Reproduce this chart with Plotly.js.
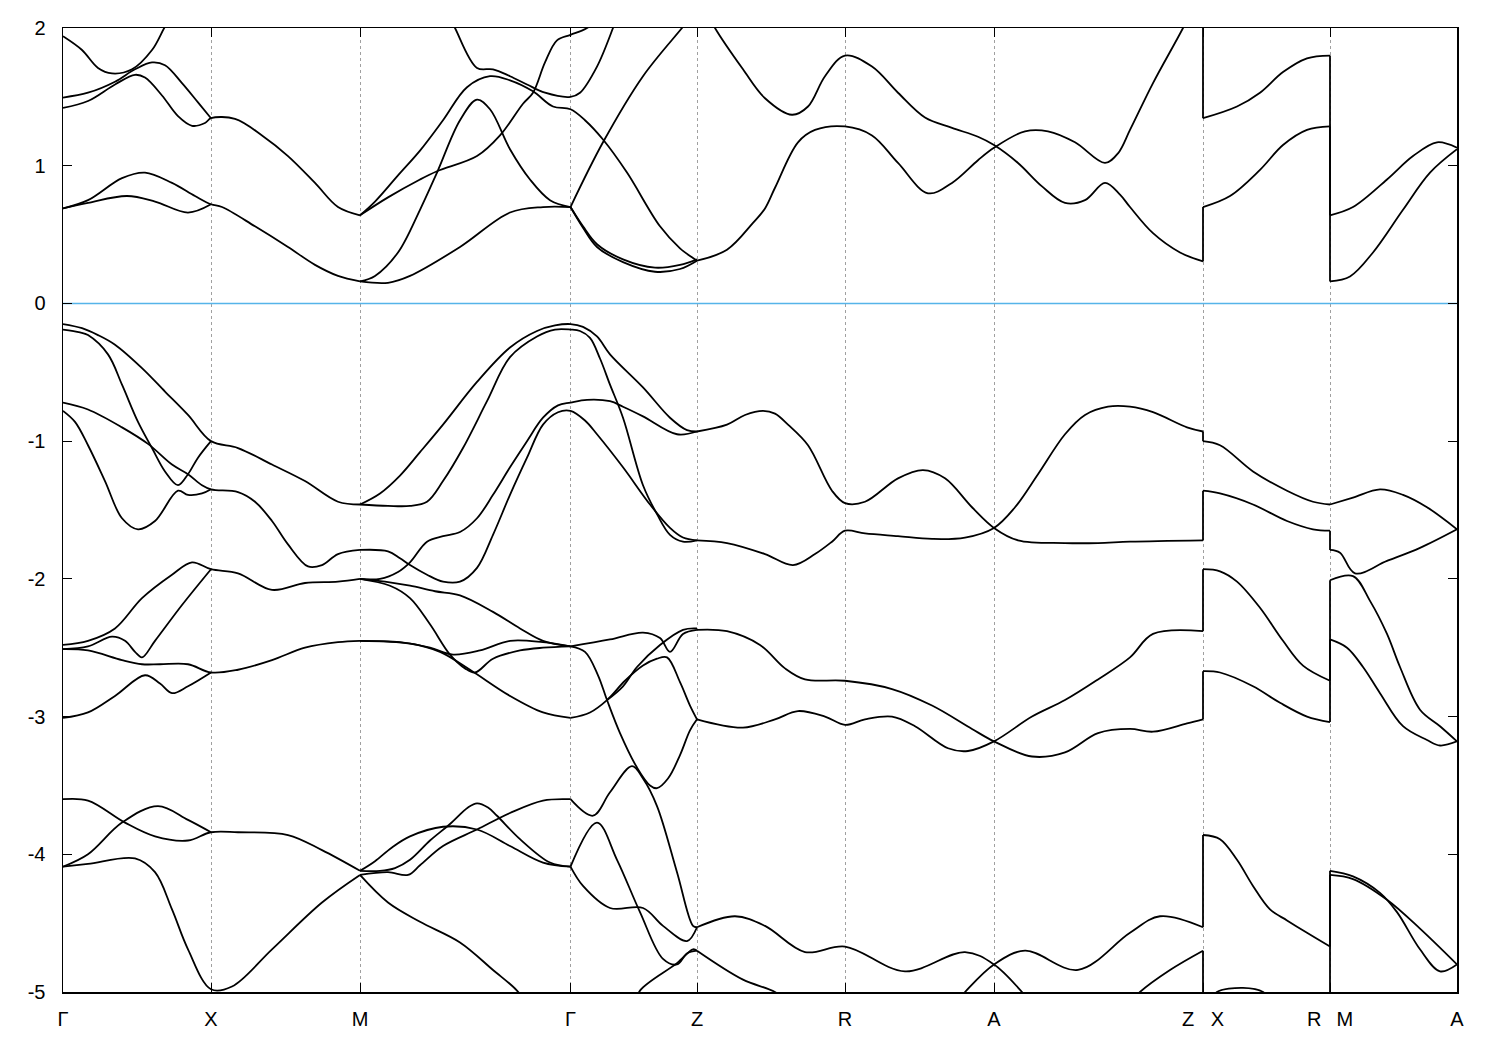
<!DOCTYPE html>
<html><head><meta charset="utf-8">
<script src="https://cdn.plot.ly/plotly-3.0.1.min.js"></script>
<style>html,body{margin:0;padding:0;background:#fff}</style>
</head><body>
<div id="chart" style="width:1500px;height:1050px"></div>
<script>
// high-symmetry points along the k-path
const kTicks = [0, 1.48, 2.97, 5.075, 6.34, 7.82, 9.31, 11.40, 12.67, 13.94];
const kLabels = ["Γ", "X", "M", "Γ", "Z", "R", "A", "Z\u00a0\u00a0\u00a0X", "R\u00a0\u00a0\u2009M", "A"];
const eTicks = [-5, -4, -3, -2, -1, 0, 1, 2];
const eLabels = ["-5", "-4", "-3", "-2", "-1", "0", "1", "2"];
const fermiLevel = 0;

// ---- conduction bands  [k, E(eV)] ----
const c01 = [[0,0.69],[0.25,0.75],[0.59,0.91],[0.82,0.95],[1.09,0.875],[1.32,0.78],[1.48,0.72],[1.59,0.70],[1.92,0.56],[2.25,0.41],[2.52,0.28],[2.75,0.20],[2.97,0.16]];
const c02 = [[0,0.69],[0.25,0.73],[0.64,0.78],[0.92,0.74],[1.25,0.66],[1.48,0.72]];
const c04 = [[0,1.94],[0.19,1.84],[0.35,1.71],[0.49,1.67],[0.69,1.70],[0.89,1.84],[1.02,2.01],[1.1,2.1]];
const c05 = [[0,1.495],[0.25,1.53],[0.52,1.61],[0.72,1.70],[0.89,1.75],[1.02,1.73],[1.19,1.60],[1.35,1.46],[1.48,1.345]];
const c06 = [[0,1.42],[0.25,1.47],[0.52,1.59],[0.72,1.66],[0.82,1.64],[0.99,1.51],[1.15,1.36],[1.29,1.29],[1.42,1.31],[1.48,1.345],[1.72,1.34],[1.99,1.22],[2.25,1.07],[2.52,0.875],[2.75,0.70],[2.97,0.64]];
const c07 = [[2.97,0.16],[3.25,0.15],[3.47,0.20],[3.97,0.41],[4.47,0.66],[4.80,0.70],[5.075,0.70]];
const c08 = [[2.97,0.16],[3.12,0.20],[3.35,0.37],[3.57,0.68],[3.74,0.95],[3.97,1.33],[4.14,1.48],[4.27,1.41],[4.47,1.12],[4.67,0.90],[4.87,0.75],[5.075,0.70]];
const c09 = [[2.97,0.64],[3.12,0.74],[3.35,0.93],[3.57,1.11],[3.80,1.33],[4.04,1.57],[4.27,1.65],[4.47,1.62],[4.70,1.54],[4.90,1.43],[5.075,1.41],[5.22,1.33],[5.40,1.19],[5.64,0.95],[5.97,0.56],[6.17,0.40],[6.30,0.33],[6.34,0.31]];
const c10 = [[2.97,0.64],[3.25,0.77],[3.57,0.90],[3.74,0.96],[4.14,1.07],[4.37,1.22],[4.60,1.45],[4.70,1.53],[4.82,1.75],[4.94,1.91],[5.075,1.95],[5.24,2.0],[5.4,2.1]];
const c11 = [[3.85,2.1],[3.92,2.0],[4.14,1.71],[4.30,1.70],[4.47,1.65],[4.64,1.59],[4.82,1.53],[5.075,1.50],[5.17,1.53],[5.34,1.72],[5.50,2.0],[5.55,2.1]];
const c12 = [[5.075,0.70],[5.20,0.55],[5.34,0.41],[5.60,0.30],[5.92,0.23],[6.17,0.25],[6.34,0.31]];
const c12b = [[5.075,0.70],[5.20,0.56],[5.34,0.43],[5.60,0.32],[5.92,0.26],[6.17,0.28],[6.34,0.32]];
const c13 = [[5.075,0.70],[5.40,1.17],[5.80,1.65],[6.19,2.0],[6.3,2.1]];
const c14 = [[6.34,0.31],[6.64,0.39],[6.90,0.585],[7.02,0.69],[7.12,0.84],[7.35,1.17],[7.52,1.26],[7.82,1.285],[8.09,1.22],[8.35,1.02],[8.65,0.80],[8.89,0.875],[9.15,1.04],[9.31,1.13],[9.62,1.25],[9.85,1.25],[10.12,1.17],[10.42,1.02],[10.55,1.09],[10.67,1.26],[10.90,1.60],[11.20,2.0],[11.3,2.15]];
const c15 = [[6.45,2.1],[6.52,2.0],[6.80,1.70],[7.02,1.49],[7.29,1.37],[7.45,1.43],[7.62,1.65],[7.82,1.80],[8.09,1.72],[8.35,1.53],[8.62,1.35],[8.89,1.275],[9.15,1.21],[9.31,1.15],[9.55,1.02],[9.79,0.85],[10.02,0.73],[10.22,0.75],[10.42,0.875],[10.57,0.79],[10.67,0.70],[10.90,0.51],[11.17,0.37],[11.40,0.305]];
const c16 = [[11.40,1.345],[11.74,1.43],[11.97,1.53],[12.20,1.68],[12.44,1.78],[12.67,1.80]];
const c17 = [[11.40,0.70],[11.67,0.78],[11.97,0.97],[12.20,1.15],[12.44,1.26],[12.67,1.285]];
const c18 = [[12.67,0.64],[12.90,0.70],[13.24,0.90],[13.50,1.07],[13.74,1.17],[13.94,1.13]];
const c19 = [[12.67,0.16],[12.87,0.196],[13.10,0.37],[13.40,0.68],[13.67,0.95],[13.94,1.12]];

// ---- valence bands ----
const vA = [[0,-0.19],[0.17,-0.21],[0.25,-0.23],[0.45,-0.37],[0.59,-0.59],[0.75,-0.86],[0.89,-1.05],[1.02,-1.22],[1.15,-1.32],[1.25,-1.24],[1.35,-1.12],[1.48,-1.00]];
const vB = [[0,-0.15],[0.19,-0.18],[0.35,-0.23],[0.52,-0.30],[0.79,-0.47],[1.02,-0.64],[1.25,-0.81],[1.48,-1.00],[1.75,-1.05],[2.09,-1.17],[2.42,-1.29],[2.75,-1.44],[2.97,-1.46]];
const vC = [[0,-0.72],[0.25,-0.77],[0.59,-0.90],[0.85,-1.02],[1.09,-1.17],[1.25,-1.24],[1.39,-1.32],[1.48,-1.35],[1.75,-1.37],[1.92,-1.44],[2.09,-1.58],[2.25,-1.75],[2.45,-1.91],[2.59,-1.90],[2.75,-1.82],[2.97,-1.79]];
const vD = [[0,-0.78],[0.12,-0.86],[0.25,-1.03],[0.42,-1.29],[0.59,-1.56],[0.75,-1.64],[0.92,-1.58],[1.15,-1.36],[1.25,-1.39],[1.39,-1.38],[1.48,-1.35]];
const vG = [[2.97,-1.46],[3.17,-1.38],[3.37,-1.25],[3.57,-1.08],[3.80,-0.88],[4.14,-0.57],[4.47,-0.32],[4.74,-0.20],[4.92,-0.16],[5.075,-0.15],[5.20,-0.17],[5.34,-0.24],[5.47,-0.37],[5.80,-0.61],[6.07,-0.83],[6.24,-0.92],[6.34,-0.93]];
const vH = [[2.97,-1.46],[3.25,-1.47],[3.47,-1.47],[3.64,-1.44],[3.80,-1.29],[4.00,-1.05],[4.24,-0.71],[4.47,-0.39],[4.74,-0.24],[4.92,-0.19],[5.075,-0.19],[5.17,-0.20],[5.27,-0.25],[5.37,-0.40],[5.47,-0.59],[5.60,-0.83],[5.80,-1.32],[5.94,-1.53],[6.07,-1.68],[6.20,-1.73],[6.34,-1.72]];
const m1 = [[2.97,-1.79],[3.25,-1.80],[3.37,-1.85],[3.47,-1.90],[3.64,-1.97],[3.80,-2.02],[3.97,-2.02],[4.14,-1.92],[4.30,-1.68],[4.47,-1.39],[4.64,-1.12],[4.80,-0.88],[4.95,-0.79],[5.075,-0.78],[5.22,-0.85],[5.34,-0.95],[5.60,-1.19],[5.87,-1.46],[6.07,-1.63],[6.20,-1.70],[6.34,-1.72]];
const m2 = [[2.97,-2.00],[3.17,-2.00],[3.35,-1.95],[3.47,-1.88],[3.64,-1.73],[3.80,-1.69],[3.97,-1.66],[4.14,-1.56],[4.30,-1.39],[4.47,-1.19],[4.64,-1.00],[4.80,-0.83],[4.95,-0.74],[5.075,-0.72],[5.24,-0.70],[5.47,-0.71],[5.60,-0.75],[5.80,-0.82],[6.14,-0.95],[6.34,-0.93]];
const vK = [[6.34,-0.93],[6.64,-0.88],[6.82,-0.81],[7.00,-0.78],[7.12,-0.80],[7.25,-0.88],[7.45,-1.03],[7.69,-1.36],[7.82,-1.45],[8.02,-1.44],[8.35,-1.27],[8.60,-1.21],[8.82,-1.27],[9.09,-1.48],[9.31,-1.63],[9.55,-1.72],[10.02,-1.74],[10.35,-1.74],[10.67,-1.73],[11.40,-1.72]];
const vL = [[6.34,-1.72],[6.64,-1.74],[7.02,-1.82],[7.30,-1.90],[7.52,-1.82],[7.69,-1.73],[7.82,-1.65],[8.02,-1.67],[8.35,-1.69],[8.69,-1.71],[9.02,-1.70],[9.31,-1.63],[9.52,-1.48],[9.75,-1.24],[10.02,-0.95],[10.22,-0.81],[10.45,-0.75],[10.67,-0.75],[10.90,-0.79],[11.24,-0.90],[11.40,-0.93]];
const g1 = [[0,-2.48],[0.25,-2.45],[0.52,-2.36],[0.79,-2.14],[1.09,-1.97],[1.29,-1.88],[1.48,-1.93],[1.75,-1.96],[2.09,-2.08],[2.42,-2.03],[2.75,-2.02],[2.97,-2.00]];
const g2 = [[0,-2.51],[0.25,-2.49],[0.49,-2.42],[0.62,-2.45],[0.72,-2.53],[0.79,-2.57],[0.92,-2.45],[1.19,-2.19],[1.48,-1.93]];
const g3 = [[0,-2.51],[0.25,-2.52],[0.59,-2.59],[0.79,-2.62],[0.97,-2.62],[1.25,-2.62],[1.48,-2.68],[1.75,-2.66],[2.09,-2.59],[2.42,-2.50],[2.75,-2.46],[2.97,-2.45]];
const g4 = [[0,-3.01],[0.25,-2.97],[0.52,-2.85],[0.82,-2.70],[0.97,-2.76],[1.09,-2.83],[1.25,-2.78],[1.48,-2.68]];
const m3 = [[2.97,-2.00],[3.22,-2.02],[3.47,-2.05],[3.72,-2.09],[3.97,-2.12],[4.30,-2.24],[4.57,-2.36],[4.80,-2.45],[5.075,-2.49]];
const m4 = [[2.97,-2.00],[3.27,-2.05],[3.47,-2.14],[3.67,-2.33],[3.87,-2.55],[4.02,-2.65],[4.12,-2.68],[4.30,-2.58],[4.57,-2.52],[4.80,-2.50],[5.075,-2.49]];
const m5 = [[2.97,-2.45],[3.47,-2.47],[3.77,-2.53],[4.07,-2.66],[4.47,-2.85],[4.80,-2.97],[5.075,-3.01]];
const m6 = [[2.97,-2.45],[3.37,-2.46],[3.67,-2.50],[3.90,-2.55],[4.17,-2.52],[4.47,-2.45],[4.80,-2.46],[5.075,-2.49]];
const va = [[5.075,-2.49],[5.22,-2.53],[5.35,-2.70],[5.44,-2.88],[5.57,-3.12],[5.74,-3.37],[5.87,-3.50],[5.94,-3.52],[6.05,-3.45],[6.17,-3.28],[6.27,-3.10],[6.34,-3.02]];
const vb = [[5.075,-3.01],[5.27,-2.97],[5.44,-2.88],[5.62,-2.74],[5.80,-2.63],[5.94,-2.58],[6.04,-2.57],[6.17,-2.75],[6.27,-2.92],[6.34,-3.02]];
const vd = [[5.075,-2.49],[5.47,-2.44],[5.80,-2.39],[5.97,-2.43],[6.07,-2.53],[6.20,-2.40],[6.34,-2.37]];
const ve = [[5.44,-2.88],[5.60,-2.78],[5.74,-2.64],[5.97,-2.48],[6.20,-2.37],[6.34,-2.36]];
const vM = [[6.34,-2.37],[6.64,-2.38],[6.97,-2.48],[7.22,-2.65],[7.42,-2.73],[7.82,-2.74],[8.29,-2.80],[8.69,-2.92],[9.09,-3.09],[9.31,-3.18],[9.69,-3.29],[10.02,-3.26],[10.35,-3.12],[10.67,-3.09],[10.90,-3.11],[11.24,-3.05],[11.40,-3.02]];
const vN = [[6.34,-3.02],[6.80,-3.08],[7.12,-3.02],[7.35,-2.96],[7.62,-3.00],[7.82,-3.06],[8.02,-3.02],[8.29,-3.00],[8.52,-3.07],[8.85,-3.23],[9.05,-3.25],[9.31,-3.18],[9.69,-3.00],[10.02,-2.88],[10.35,-2.73],[10.67,-2.57],[10.90,-2.40],[11.40,-2.38]];
const la = [[0,-3.60],[0.25,-3.61],[0.62,-3.77],[0.92,-3.87],[1.25,-3.90],[1.48,-3.84],[1.75,-3.84],[2.25,-3.86],[2.59,-3.97],[2.97,-4.12]];
const lb = [[0,-4.09],[0.25,-4.00],[0.59,-3.77],[0.95,-3.65],[1.25,-3.75],[1.48,-3.84]];
const lc = [[0,-4.09],[0.25,-4.07],[0.72,-4.03],[0.92,-4.13],[1.09,-4.40],[1.25,-4.69],[1.48,-4.98],[1.69,-4.96],[2.09,-4.69],[2.59,-4.35],[2.97,-4.15]];
const l1 = [[2.97,-4.12],[3.12,-4.05],[3.29,-3.95],[3.47,-3.87],[3.80,-3.80],[4.14,-3.82],[4.47,-3.94],[4.80,-4.06],[5.075,-4.09]];
const l2 = [[2.97,-4.12],[3.17,-4.12],[3.32,-4.10],[3.47,-4.04],[3.67,-3.90],[3.87,-3.78],[4.05,-3.66],[4.14,-3.63],[4.25,-3.66],[4.34,-3.72],[4.57,-3.89],[4.87,-4.06],[5.075,-4.09]];
const l3 = [[2.97,-4.15],[3.25,-4.13],[3.45,-4.15],[3.57,-4.08],[3.80,-3.94],[4.14,-3.82],[4.47,-3.70],[4.80,-3.61],[5.075,-3.60]];
const l4 = [[2.97,-4.15],[3.25,-4.35],[3.57,-4.49],[3.97,-4.64],[4.30,-4.84],[4.54,-4.99],[4.65,-5.1]];
const lz1 = [[5.075,-4.09],[5.34,-3.77],[5.54,-4.04],[5.77,-4.42],[6.00,-4.76],[6.14,-4.80],[6.24,-4.72],[6.34,-4.70]];
const lz2 = [[5.075,-4.09],[5.20,-4.23],[5.47,-4.39],[5.80,-4.39],[6.00,-4.52],[6.24,-4.63],[6.34,-4.53]];
const lz3 = [[5.075,-3.60],[5.30,-3.72],[5.47,-3.55],[5.69,-3.36],[5.80,-3.45],[5.94,-3.65],[6.14,-4.13],[6.30,-4.52],[6.34,-4.53]];
const lz4 = [[5.72,-5.1],[5.77,-4.99],[6.14,-4.79],[6.30,-4.69],[6.34,-4.70]];
const lr1 = [[6.34,-4.53],[6.72,-4.45],[7.02,-4.52],[7.42,-4.71],[7.82,-4.67],[8.42,-4.85],[9.02,-4.71],[9.31,-4.80],[9.59,-5.0],[9.7,-5.1]];
const lr2 = [[6.34,-4.70],[6.80,-4.91],[7.12,-5.0],[7.3,-5.1]];
const lr3 = [[8.9,-5.1],[9.02,-5.0],[9.31,-4.80],[9.62,-4.70],[10.15,-4.84],[10.67,-4.57],[10.97,-4.45],[11.40,-4.53]];
const lr4 = [[10.65,-5.1],[10.77,-5.0],[11.07,-4.84],[11.40,-4.70]];
const x1 = [[11.40,-1.00],[11.57,-1.03],[11.90,-1.22],[12.24,-1.36],[12.50,-1.44],[12.67,-1.46]];
const x2 = [[11.40,-1.36],[11.57,-1.38],[11.90,-1.46],[12.24,-1.58],[12.50,-1.64],[12.67,-1.65]];
const x3 = [[11.40,-1.93],[11.57,-1.945],[11.74,-2.02],[11.97,-2.21],[12.20,-2.45],[12.40,-2.63],[12.67,-2.74]];
const x4 = [[11.40,-2.67],[11.57,-2.68],[11.90,-2.78],[12.17,-2.90],[12.44,-3.00],[12.67,-3.04]];
const x5 = [[11.40,-3.86],[11.57,-3.89],[11.74,-4.04],[11.90,-4.23],[12.07,-4.40],[12.24,-4.48],[12.44,-4.57],[12.67,-4.67]];
const x6 = [[11.50,-5.05],[11.54,-5.0],[11.80,-4.97],[12.00,-5.0],[12.05,-5.05]];
const y1 = [[12.67,-1.46],[12.90,-1.41],[13.17,-1.35],[13.40,-1.39],[13.64,-1.48],[13.94,-1.64]];
const y2 = [[12.67,-1.79],[12.77,-1.81],[12.92,-1.96],[13.24,-1.87],[13.57,-1.775],[13.94,-1.64]];
const y3 = [[12.67,-2.01],[12.90,-1.98],[13.07,-2.16],[13.24,-2.40],[13.37,-2.64],[13.57,-2.95],[13.77,-3.07],[13.94,-3.18]];
const y4 = [[12.67,-2.44],[12.84,-2.50],[13.00,-2.64],[13.17,-2.83],[13.40,-3.07],[13.64,-3.17],[13.77,-3.21],[13.94,-3.18]];
const y5 = [[12.67,-4.12],[12.90,-4.16],[13.17,-4.28],[13.34,-4.42],[13.57,-4.69],[13.77,-4.85],[13.94,-4.80]];
const y6 = [[12.67,-4.15],[12.90,-4.18],[13.24,-4.33],[13.57,-4.54],[13.94,-4.80]];

// band values on both sides of the path breaks (Z|X and R|M)
const jumpZX = [[0.305,0.70],[1.345,2.2],[-0.93,-1.00],[-1.72,-1.36],[-2.38,-1.93],[-3.02,-2.67],[-4.53,-3.86],[-4.70,-5.2]];
const jumpRM = [[1.285,0.16],[1.80,0.64],[-1.65,-1.79],[-2.74,-2.01],[-3.04,-2.44],[-4.67,-4.12],[-5.2,-4.15]];

const bands = [c01,c02,c04,c05,c06,c07,c08,c09,c10,c11,c12,c12b,c13,c14,c15,c16,c17,c18,c19,
  vA,vB,vC,vD,vG,vH,m1,m2,vK,vL,g1,g2,g3,g4,m3,m4,m5,m6,va,vb,vd,ve,vM,vN,
  la,lb,lc,l1,l2,l3,l4,lz1,lz2,lz3,lz4,lr1,lr2,lr3,lr4,x1,x2,x3,x4,x5,x6,y1,y2,y3,y4,y5,y6];

const traces = [{
  x: [kTicks[0], kTicks[kTicks.length - 1]], y: [fermiLevel, fermiLevel],
  type: 'scatter', mode: 'lines', hoverinfo: 'skip', showlegend: false,
  line: {color: '#56b4e9', width: 1.6}
}];
bands.forEach(b => traces.push({
  x: b.map(p => p[0]), y: b.map(p => p[1]),
  type: 'scatter', mode: 'lines', hoverinfo: 'skip', showlegend: false,
  line: {color: '#000', width: 1.8, shape: 'spline', smoothing: 1}
}));
function jumpTrace(k, pairs) {
  const xs = [], ys = [];
  pairs.forEach(p => { xs.push(k, k, null); ys.push(p[0], p[1], null); });
  return {x: xs, y: ys, type: 'scatter', mode: 'lines', hoverinfo: 'skip', showlegend: false,
          line: {color: '#000', width: 1.8}};
}
traces.push(jumpTrace(kTicks[7], jumpZX));
traces.push(jumpTrace(kTicks[8], jumpRM));

const layout = {
  width: 1500, height: 1050,
  margin: {l: 63, r: 43, t: 28, b: 58, pad: 0},
  paper_bgcolor: '#fff', plot_bgcolor: '#fff',
  font: {family: 'Liberation Sans, Arial, sans-serif', size: 20, color: '#000'},
  hovermode: false,
  xaxis: {
    range: [0, 13.94], tickmode: 'array', tickvals: kTicks, ticktext: kLabels,
    ticks: 'inside', ticklen: 9, tickwidth: 1, tickcolor: '#000',
    showline: true, linecolor: '#000', linewidth: 1.5, mirror: 'ticks',
    showgrid: true, gridcolor: '#a0a0a0', gridwidth: 1, griddash: 'dot',
    zeroline: false, ticklabelstandoff: 8
  },
  yaxis: {
    range: [-5, 2], tickmode: 'array', tickvals: eTicks, ticktext: eLabels,
    ticks: 'inside', ticklen: 9, tickwidth: 1, tickcolor: '#000',
    showline: true, linecolor: '#000', linewidth: 1.5, mirror: 'ticks',
    showgrid: false, zeroline: false,
    ticklabelstandoff: 12
  }
};
Plotly.newPlot('chart', traces, layout, {staticPlot: true, displayModeBar: false});
</script>
</body></html>
